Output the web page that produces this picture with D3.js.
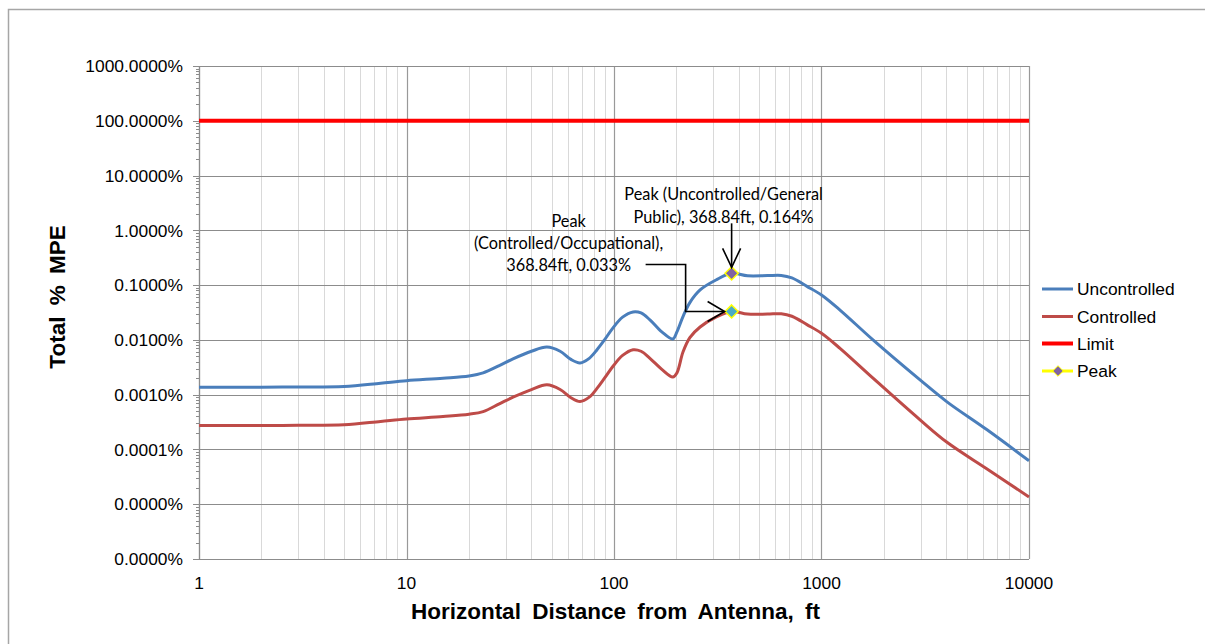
<!DOCTYPE html>
<html><head><meta charset="utf-8">
<script src="https://cdn.jsdelivr.net/npm/d3@7"></script>
<style>body{margin:0;background:#fff}svg{display:block}</style>
</head><body>
<svg id="c" width="1205" height="644"></svg>
<script>
// ---- data ----
const distances = [1, 2, 3, 5, 7.5, 10, 15, 20, 23.4, 28, 32.6, 40, 47.5, 55, 62, 68.6, 76, 82.8, 90, 98.9, 110, 123.6, 135, 149, 170, 192, 201, 215, 232, 260, 310, 368.84, 440, 550, 640, 720, 851, 1000, 1228, 1771, 2985, 4025, 6280, 10000];
const uncontrolled = [0.00137, 0.00137, 0.00138, 0.00141, 0.00162, 0.00180, 0.0020, 0.0022, 0.0025, 0.0034, 0.0045, 0.0062, 0.0074, 0.0062, 0.0044, 0.0038, 0.0046, 0.0066, 0.0100, 0.0166, 0.026, 0.0324, 0.031, 0.0232, 0.0140, 0.0104, 0.0140, 0.0266, 0.048, 0.0817, 0.124, 0.164, 0.148, 0.149, 0.150, 0.135, 0.095, 0.066, 0.035, 0.0100, 0.00186, 0.00074, 0.000228, 0.000062];
const controlled = [0.000273, 0.000274, 0.000276, 0.000282, 0.000325, 0.00036, 0.00040, 0.00044, 0.00049, 0.00068, 0.00090, 0.00124, 0.00151, 0.00124, 0.00088, 0.00075, 0.00090, 0.00130, 0.0020, 0.0033, 0.0052, 0.0066, 0.0062, 0.0046, 0.0029, 0.0021, 0.0025, 0.0060, 0.0110, 0.0172, 0.026, 0.033, 0.0296, 0.0296, 0.0300, 0.027, 0.019, 0.0132, 0.0070, 0.0020, 0.000347, 0.000135, 0.000044, 0.0000136];
const limitValue = 100;
const peakX = 368.84;
const peakUncontrolled = 0.164;
const peakControlled = 0.033;
const yTickValues = [1000, 100, 10, 1, 0.1, 0.01, 0.001, 0.0001, 0.00001, 0.000001];
const yTickLabels = ["1000.0000%", "100.0000%", "10.0000%", "1.0000%", "0.1000%", "0.0100%", "0.0010%", "0.0001%", "0.0000%", "0.0000%"];
const xTickValues = [1, 10, 100, 1000, 10000];
const xTickLabels = ["1", "10", "100", "1000", "10000"];
const legendNames = ["Uncontrolled", "Controlled", "Limit", "Peak"];
const annoUncontrolled = ["Peak (Uncontrolled/General", "Public), 368.84ft, 0.164%"];
const annoControlled = ["Peak", "(Controlled/Occupational),", "368.84ft, 0.033%"];

// ---- layout ----
const svg = d3.select("#c");
const L = 199, R = 1029, T = 66, B = 559;
const x = d3.scaleLog().domain([1, 10000]).range([L, R]);
const y = d3.scaleLog().domain([0.000001, 1000]).range([B, T]);
const cBlue = "#4A7EBB", cRed = "#BE4B48";
const font = "Liberation Sans, Arial, sans-serif";
const fs = 17.4;

svg.append("rect").attr("x", 8.5).attr("y", 9.5).attr("width", 1210).attr("height", 660)
  .attr("fill", "#fff").attr("stroke", "#a6a6a6").attr("stroke-width", 1.5);

// minor vertical grid
const minorX = [];
for (let d = 1; d < 10000; d *= 10) for (let k = 2; k <= 9; k++) minorX.push(d * k);
svg.append("g").selectAll("line").data(minorX).join("line")
  .attr("x1", d => Math.round(x(d)) + 0.5).attr("x2", d => Math.round(x(d)) + 0.5)
  .attr("y1", T).attr("y2", B).attr("stroke", "#d9d9d9").attr("stroke-width", 1);
// major vertical grid
svg.append("g").selectAll("line").data(xTickValues).join("line")
  .attr("x1", d => Math.round(x(d)) + 0.5).attr("x2", d => Math.round(x(d)) + 0.5)
  .attr("y1", T).attr("y2", B).attr("stroke", "#999").attr("stroke-width", 1.2);
// major horizontal grid
svg.append("g").selectAll("line").data(yTickValues).join("line")
  .attr("x1", L - 6).attr("x2", R).attr("y1", d => Math.round(y(d)) + 0.5).attr("y2", d => Math.round(y(d)) + 0.5)
  .attr("stroke", "#8c8c8c").attr("stroke-width", 1.2);
// y minor ticks
const minorY = [];
for (let d = 0.000001; d < 999; d *= 10) for (let k = 2; k <= 9; k++) minorY.push(d * k);
svg.append("g").selectAll("line").data(minorY).join("line")
  .attr("x1", L - 3).attr("x2", L).attr("y1", d => Math.round(y(d)) + 0.5).attr("y2", d => Math.round(y(d)) + 0.5)
  .attr("stroke", "#8c8c8c").attr("stroke-width", 1);
// axis lines
svg.append("line").attr("x1", L + 0.5).attr("x2", L + 0.5).attr("y1", T).attr("y2", B).attr("stroke", "#8c8c8c").attr("stroke-width", 1.2);
svg.append("line").attr("x1", L).attr("x2", R).attr("y1", B + 0.5).attr("y2", B + 0.5).attr("stroke", "#8c8c8c").attr("stroke-width", 1.2);

// tick labels
svg.append("g").selectAll("text").data(yTickValues).join("text")
  .attr("x", 183).attr("y", d => y(d)).attr("dy", "0.36em").attr("text-anchor", "end")
  .attr("font-family", font).attr("font-size", fs).attr("fill", "#000")
  .text((d, i) => yTickLabels[i]);
svg.append("g").selectAll("text").data(xTickValues).join("text")
  .attr("x", d => x(d)).attr("y", 589).attr("text-anchor", "middle")
  .attr("font-family", font).attr("font-size", fs).attr("fill", "#000")
  .text((d, i) => xTickLabels[i]);

// axis titles
svg.append("text").attr("x", 615.5).attr("y", 619).attr("text-anchor", "middle")
  .attr("font-family", font).attr("font-weight", "bold").attr("font-size", 22.5).attr("word-spacing", 5)
  .text("Horizontal Distance from Antenna, ft");
svg.append("text").attr("transform", "translate(65,297) rotate(-90)").attr("text-anchor", "middle")
  .attr("font-family", font).attr("font-weight", "bold").attr("font-size", 22.5).attr("word-spacing", 5)
  .text("Total % MPE");

// lines
const line = d3.line().x(d => x(d[0])).y(d => y(d[1])).curve(d3.curveCatmullRom.alpha(0.5));
svg.append("path").datum(d3.zip(distances, uncontrolled)).attr("d", line)
  .attr("fill", "none").attr("stroke", cBlue).attr("stroke-width", 3);
svg.append("path").datum(d3.zip(distances, controlled)).attr("d", line)
  .attr("fill", "none").attr("stroke", cRed).attr("stroke-width", 3);
svg.append("line").attr("x1", x(1)).attr("x2", x(10000)).attr("y1", y(limitValue)).attr("y2", y(limitValue))
  .attr("stroke", "#FF0000").attr("stroke-width", 4);

// peak markers
const diamond = d3.symbol().type(d3.symbolDiamond2).size(110);
[[peakX, peakUncontrolled, "#8064A2"], [peakX, peakControlled, "#4BACC6"]].forEach(p => {
  svg.append("path").attr("d", diamond).attr("transform", `translate(${x(p[0])},${y(p[1])})`)
    .attr("fill", p[2]).attr("stroke", "#FFFF00").attr("stroke-width", 1.5);
});

// annotations
const aFont = "Lato, 'Noto Sans', sans-serif";
const afs = 16.3;
const px = x(peakX), pyU = y(peakUncontrolled), pyC = y(peakControlled);
svg.append("g").selectAll("text").data(annoUncontrolled).join("text")
  .attr("x", px - 8).attr("y", (d, i) => 200 + i * 22.5).attr("text-anchor", "middle")
  .attr("font-family", aFont).attr("font-size", afs).attr("fill", "#000").text(d => d);
svg.append("g").selectAll("text").data(annoControlled).join("text")
  .attr("x", px - 163).attr("y", (d, i) => 227 + i * 22).attr("text-anchor", "middle")
  .attr("font-family", aFont).attr("font-size", afs).attr("fill", "#000").text(d => d);
const ag = svg.append("g").attr("fill", "none").attr("stroke", "#000").attr("stroke-width", 1.6);
ag.append("line").attr("x1", px).attr("x2", px).attr("y1", pyU - 50).attr("y2", pyU - 6);
ag.append("polyline").attr("points", `${px - 9},${pyU - 25} ${px},${pyU - 6} ${px + 9},${pyU - 25}`);
ag.append("polyline").attr("points", `${px - 86},${pyC - 47} ${px - 46},${pyC - 47} ${px - 46},${pyC} ${px - 7},${pyC}`);
ag.append("polyline").attr("points", `${px - 24},${pyC - 10} ${px - 7},${pyC} ${px - 24},${pyC + 10}`);

// legend
const lg = svg.append("g");
const legY = [289, 316.5, 343.5, 371];
const legColors = [cBlue, cRed, "#FF0000", "#FFFF00"];
const legWidths = [3, 3, 4, 3];
legendNames.forEach((n, i) => {
  lg.append("line").attr("x1", 1042).attr("x2", 1073).attr("y1", legY[i]).attr("y2", legY[i])
    .attr("stroke", legColors[i]).attr("stroke-width", legWidths[i]);
  lg.append("text").attr("x", 1077).attr("y", legY[i]).attr("dy", "0.36em")
    .attr("font-family", font).attr("font-size", fs).attr("fill", "#000").text(n);
});
lg.append("path").attr("d", d3.symbol().type(d3.symbolDiamond2).size(70))
  .attr("transform", `translate(1058,${legY[3]})`).attr("fill", "#8064A2").attr("stroke", "#FFFF00").attr("stroke-width", 1);
</script>
</body></html>
